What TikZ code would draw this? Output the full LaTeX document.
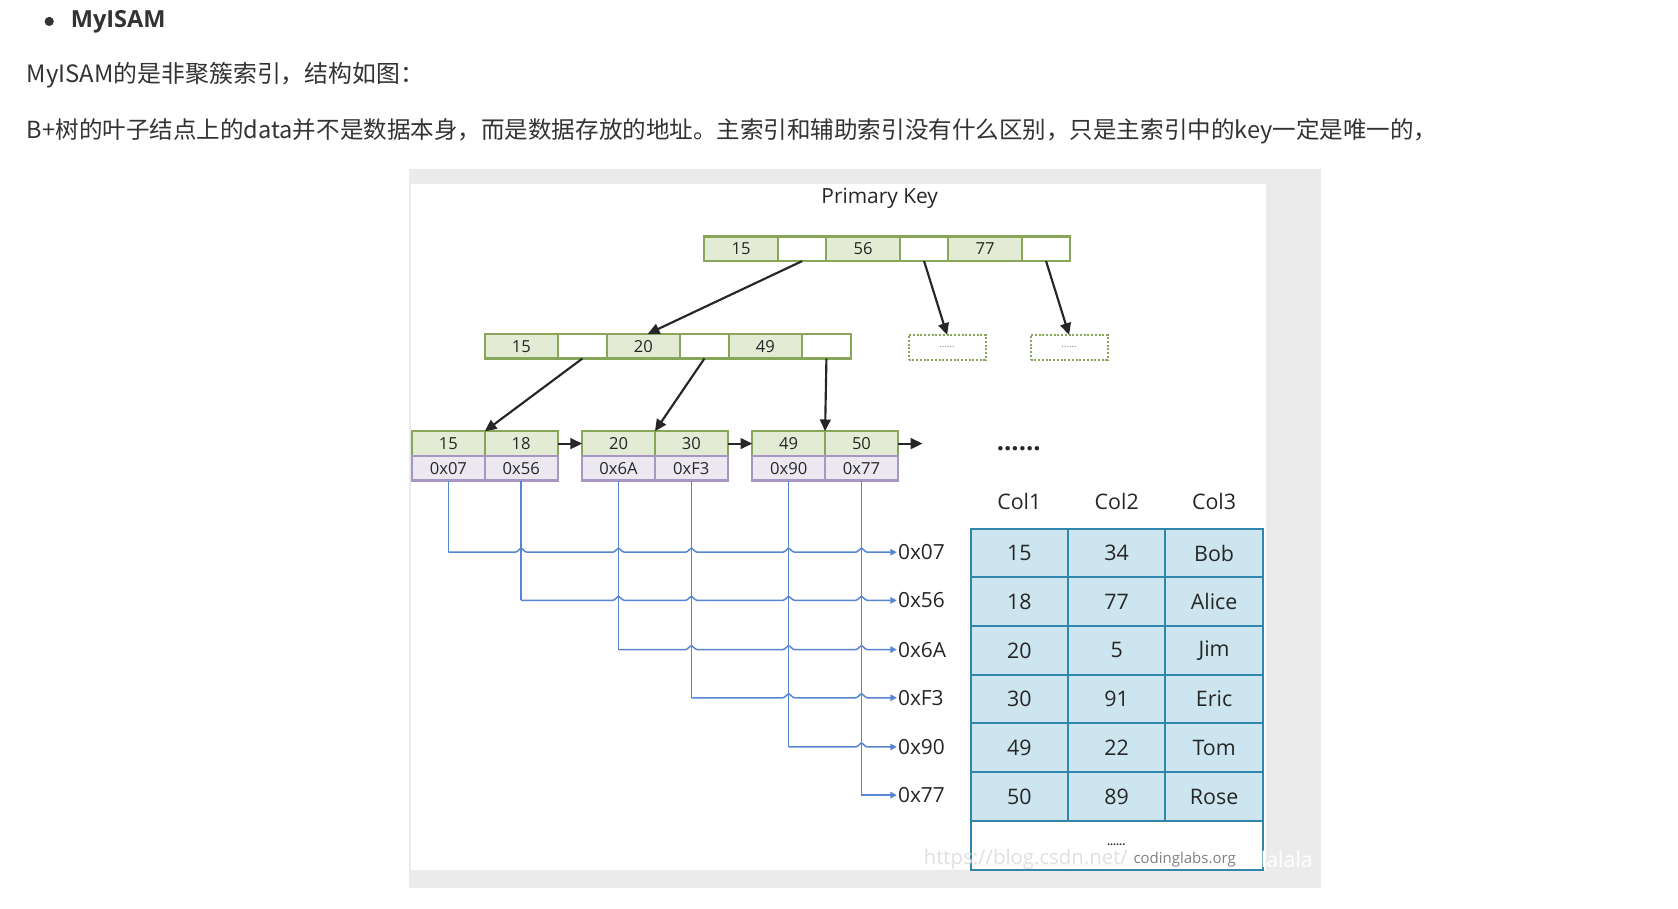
\documentclass[tikz,border=0pt]{standalone}
\usepackage{fontspec}
\setmainfont{Open Sans}
\newfontfamily\cjk{Noto Sans CJK SC}
\usetikzlibrary{arrows.meta,calc}
\definecolor{gfill}{HTML}{E3EBD5}
\definecolor{gline}{HTML}{88A65A}
\definecolor{pfill}{HTML}{ECE8F2}
\definecolor{pline}{HTML}{A796C4}
\definecolor{bline}{HTML}{5686D2}
\definecolor{tfill}{HTML}{CDE5EF}
\definecolor{tline}{HTML}{3286AE}
\definecolor{txt}{HTML}{333333}
\definecolor{dtxt}{HTML}{262626}
\definecolor{framec}{HTML}{EBEBEB}
\begin{document}
\begin{tikzpicture}[x=1pt,y=-1pt,
  cellbase/.style={line width=1.9pt, inner sep=0pt, outer sep=0pt, text=dtxt, font=\fontsize{15.5}{16}\selectfont},
  keyc/.style={cellbase, draw=gline, fill=gfill, minimum width=68.5pt, minimum height=23pt},
  ptrc/.style={cellbase, draw=gline, fill=white, minimum width=45.5pt, minimum height=23pt},
  lkey/.style={cellbase, draw=gline, fill=gfill, minimum width=68pt, minimum height=23pt},
  ladr/.style={cellbase, draw=pline, fill=pfill, minimum width=68pt, minimum height=23pt},
  dots/.style={cellbase, draw=gline, dashed, dash pattern=on 2pt off 1.5pt, fill=white, minimum width=72pt, minimum height=23pt, font=\fontsize{9}{9}\selectfont, text=gray},
  blk/.style={line width=2pt, draw=black!85, -{Triangle[length=11pt,width=10pt]}},
  blu/.style={line width=1.4pt, draw=bline, rounded corners=1pt},
  adr/.style={anchor=west, inner sep=1pt, text=dtxt, font=\fontsize{19.5}{20}\selectfont},
  tcell/.style={draw=tline, line width=1.8pt, fill=tfill, minimum width=91pt, minimum height=45.5pt, inner sep=0pt, outer sep=0pt, text=dtxt, font=\fontsize{20}{20}\selectfont},
  hdr/.style={text=dtxt, font=\fontsize{20}{20}\selectfont}
]
\useasboundingbox (0,0) rectangle (1568,849);
\fill[white] (0,0) rectangle (1568,849);
% header texts
\fill[txt] (46,20) circle (4.3);
\node[anchor=west, inner sep=0pt, text=txt, font=\fontsize{22}{22}\selectfont\bfseries] (h1) at (66,20) {MyISAM};
\node[anchor=west, inner sep=0pt, text=txt, font=\cjk\fontsize{22.3}{23}\selectfont] (h2) at (25,70) {MyISAM的是非聚簇索引，结构如图：};
\node[anchor=west, inner sep=0pt, text=txt, font=\cjk\fontsize{22}{23}\selectfont] (h3) at (25,123) {B+树的叶子结点上的data并不是数据本身，而是数据存放的地址。主索引和辅助索引没有什么区别，只是主索引中的key一定是唯一的，};
% frame
\fill[framec] (382,158) rectangle (1234,830);
\fill[white] (384,172) rectangle (1183,813);
\node[text=dtxt, font=\fontsize{19.5}{20}\selectfont] (pk) at (822,185) {Primary Key};
% top level
\node[keyc] (t1) at (692.5,232.5) {15};
\node[ptrc] (t2) at (749.5,232.5) {};
\node[keyc] (t3) at (806.5,232.5) {56};
\node[ptrc] (t4) at (863.5,232.5) {};
\node[keyc] (t5) at (920.5,232.5) {77};
\node[ptrc] (t6) at (977.5,232.5) {};
% mid level
\node[keyc] (m1) at (487.25,323.5) {15};
\node[ptrc] (m2) at (544.25,323.5) {};
\node[keyc] (m3) at (601.25,323.5) {20};
\node[ptrc] (m4) at (658.25,323.5) {};
\node[keyc] (m5) at (715.25,323.5) {49};
\node[ptrc] (m6) at (772.25,323.5) {};
\node[dots] (d1) at (885,324.5) {......};
\node[dots] (d2) at (999,324.5) {......};
% leaves
\foreach \i/\x/\k/\a in {1/419/15/0x07,2/487/18/0x56,3/578/20/0x6A,4/646/30/0xF3,5/737/49/0x90,6/805/50/0x77}{
  \node[lkey] (lk\i) at (\x,414.5) {\k};
}
\foreach \i/\x/\k/\a in {1/419/15/0x07,2/487/18/0x56,3/578/20/0x6A,4/646/30/0xF3,5/737/49/0x90,6/805/50/0x77}{
  \node[ladr] (la\i) at (\x,437.5) {\a};
}
\coordinate (lnext) at (862,414.5);
\node[text=dtxt, font=\fontsize{24}{24}\selectfont\bfseries, inner sep=0pt] (more) at (952,419) {......};
% black arrows
\draw[blk] (t2.south) -- ($(m3.north)+(4,0)$);
\draw[blk] (t4.south) -- (d1.north);
\draw[blk] (t6.south) -- (d2.north);
\draw[blk] (m2.south) -- (lk1.north east);
\draw[blk] (m4.south) -- (lk3.north east);
\draw[blk] (m6.south) -- (lk5.north east);
\draw[blk] (lk2.east) -- (lk3.west);
\draw[blk] (lk4.east) -- (lk5.west);
\draw[blk] (lk6.east) -- (lnext);
% address labels
\foreach \i/\y/\a in {1/516/0x07,2/561/0x56,3/607/0x6A,4/652/0xF3,5/698/0x90,6/743/0x77}{
  \node[adr] (a\i) at (838,\y) {\a};
}
% blue connectors
\foreach \i in {1,...,6}{
  \draw[blu] (la\i.south) -- (la\i.south |- a\i.west);
}
\foreach \i/\hops in {1/{2,3,4,5,6},2/{3,4,5,6},3/{4,5,6},4/{5,6},5/{6}}{
  \draw[blu, -{Triangle[length=6pt,width=6pt]}] (la\i.south |- a\i.west)
    \foreach \j in \hops { -- ($(la\j.south |- a\i.west)+(-4.5,0)$) -- ($(la\j.south |- a\i.west)+(0,-4)$) -- ($(la\j.south |- a\i.west)+(4.5,0)$) }
    -- (a\i.west);
}
\draw[blu, -{Triangle[length=6pt,width=6pt]}] (la6.south |- a6.west) -- (a6.west);
% table
\node[hdr] (c1) at (952.5,469) {Col1};
\node[hdr] (c2) at (1043.5,469) {Col2};
\node[hdr] (c3) at (1134.5,469) {Col3};
\foreach \r/\p/\q/\s in {1/15/34/Bob,2/18/77/Alice,3/20/5/Jim,4/30/91/Eric,5/49/22/Tom,6/50/89/Rose}{
  \node[tcell] (r\r c1) at (952.5,{471.25+45.5*\r}) {\p};
  \node[tcell] (r\r c2) at (1043.5,{471.25+45.5*\r}) {\q};
  \node[tcell] (r\r c3) at (1134.5,{471.25+45.5*\r}) {\s};
}
\node[draw=tline, line width=1.8pt, fill=white, minimum width=273pt, minimum height=46pt, inner sep=0pt, outer sep=0pt] (r7) at (1043.5,790) {};
\node[text=dtxt, font=\fontsize{10}{10}\selectfont\bfseries, inner sep=0pt] (tmore) at (1043,789) {......};
% watermark
\node[anchor=west, inner sep=0pt, text=black!12, font=\fontsize{19}{19}\selectfont] (wm1) at (863,803) {https://blog.csdn.net/};
\node[anchor=west, inner sep=0pt, text=white, font=\fontsize{20}{20}\selectfont] (wm2) at (1178,803) {lalala};
\node[anchor=west, inner sep=0pt, text=black!50, font=\fontsize{14}{14}\selectfont] (wm3) at (1059,803) {codinglabs.org};
\end{tikzpicture}
\end{document}
